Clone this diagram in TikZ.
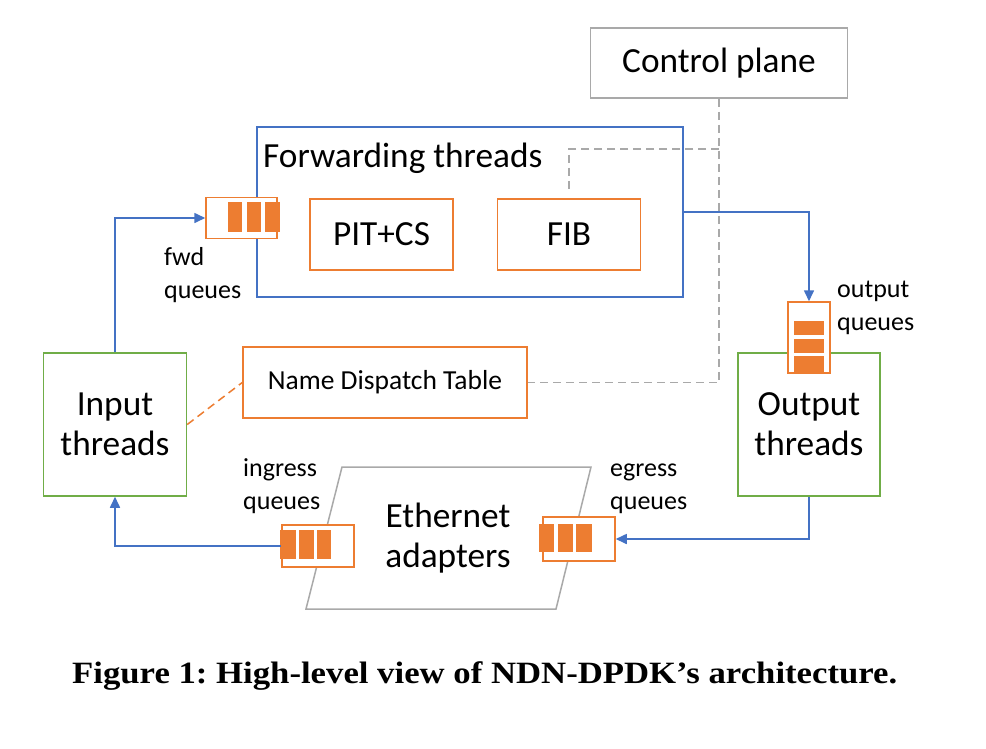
\documentclass[tikz,border=0pt]{standalone}
\usepackage{fontspec}
\setmainfont{Carlito}
\newfontfamily\capfont[FakeStretch=1.12]{Liberation Serif}
\usetikzlibrary{arrows.meta,calc}
\definecolor{cblue}{HTML}{4472C4}
\definecolor{corange}{HTML}{ED7D31}
\definecolor{cgreen}{HTML}{70AD47}
\definecolor{cgray}{HTML}{A9A9A9}
\frenchspacing
\tikzset{
  box/.style={draw, rectangle, fill=white, line width=1.5pt, inner sep=0pt, align=center},
  bluebox/.style={box, draw=cblue},
  orangebox/.style={box, draw=corange},
  greenbox/.style={box, draw=cgreen},
  graybox/.style={box, draw=cgray},
  flow/.style={draw=cblue, line width=1.6pt, -{Triangle[length=11pt,width=10pt]}},
  gdash/.style={draw=cgray, line width=1.5pt, dash pattern=on 8pt off 5pt},
  odash/.style={draw=corange, line width=1.5pt, dash pattern=on 8pt off 5pt},
  qbar/.style={fill=corange},
  big/.style={font=\fontsize{35.3}{40}\selectfont},
  mid/.style={font=\fontsize{27.5}{33}\selectfont},
  small/.style={font=\fontsize{26}{33}\selectfont, align=left, inner sep=0pt},
}
\begin{document}
\begin{tikzpicture}[x=1pt,y=-1pt]
\useasboundingbox[fill=white] (0,0) rectangle (986,748);

% control plane
\node[graybox, big, minimum width=257pt, minimum height=70pt] (cp) at (719,63) {Control plane};
\path (cp.south) ++(0,50) coordinate (j);

% forwarding threads
\node[bluebox, fill=none, minimum width=426pt, minimum height=170pt] (fwd) at (470,212) {};
\node[anchor=base west, inner sep=0pt, big] (fwdlbl) at (263,167) {Forwarding threads};
\node[orangebox, big, minimum width=143pt, minimum height=71pt] (pit) at (381.5,234.5) {PIT+CS};
\node[orangebox, big, minimum width=143pt, minimum height=71pt] (fib) at (569,234.5) {FIB};

% name dispatch table
\node[orangebox, mid, minimum width=284pt, minimum height=71pt] (ndt) at (385,382.5) {Name Dispatch Table};

\draw[gdash] (cp.south) |- (ndt.east);
\draw[gdash] (j) -| ([yshift=7pt]fib.north);

% input / output threads
\node[greenbox, big, minimum width=143pt, minimum height=143pt] (in) at (115,424.5) {Input\\threads};
\node[greenbox, big, minimum width=142pt, minimum height=143pt] (out) at (809,424.5) {Output\\threads};

\draw[odash] (in.east) -- (ndt.west);

% ethernet adapters
\coordinate (e1) at (342,467);
\coordinate (e2) at (591,467);
\coordinate (e3) at (556,609);
\coordinate (e4) at (306,609);
\draw[draw=cgray, line width=1.5pt, fill=white] (e1) -- (e2) -- (e3) -- (e4) -- cycle;
\node[big, align=center] (eth) at (448,538) {Ethernet\\adapters};

% queues
\node[orangebox, minimum width=71pt, minimum height=41pt] (fq) at (241.5,218) {};
\fill[qbar] (228,202) rectangle (242,232);
\fill[qbar] (246.5,202) rectangle (260.5,232);
\fill[qbar] (265,202) rectangle (280,232);

\node[orangebox, minimum width=42pt, minimum height=71pt] (oq) at (809,337.5) {};
\fill[qbar] (794,321) rectangle (824,335);
\fill[qbar] (794,338.5) rectangle (824,352.5);
\fill[qbar] (794,356) rectangle (824,372);

\node[orangebox, minimum width=72pt, minimum height=42pt] (iq) at (318,546) {};
\fill[qbar] (280,530) rectangle (296,559);
\fill[qbar] (298.5,530) rectangle (314,559);
\fill[qbar] (317,530) rectangle (331,559);

\node[orangebox, minimum width=72pt, minimum height=44pt] (eq) at (579,539) {};
\fill[qbar] (539,524) rectangle (554,552);
\fill[qbar] (557.5,524) rectangle (573,552);
\fill[qbar] (576,524) rectangle (592,552);

% queue labels (base = last line)
\node[small, anchor=base west] (fql) at (164,298) {fwd\\queues};
\node[small, anchor=base west] (oql) at (837,330) {output\\queues};
\node[small, anchor=base west] (iql) at (243,509) {ingress\\queues};
\node[small, anchor=base west] (eql) at (610,509) {egress\\queues};

% flows
\draw[flow] (in.north) |- (fq.west);
\draw[flow] (fwd.east) -| (oq.north);
\draw[flow] (out.south) |- (eq.east);
\draw[flow] (iq.west) -| (in.south);

% caption
\node[anchor=base west, inner sep=0pt, font=\capfont\bfseries\fontsize{31}{36}\selectfont] (cap) at (72,683) {Figure 1: High-level view of NDN-DPDK’s architecture.};
\end{tikzpicture}
\end{document}
